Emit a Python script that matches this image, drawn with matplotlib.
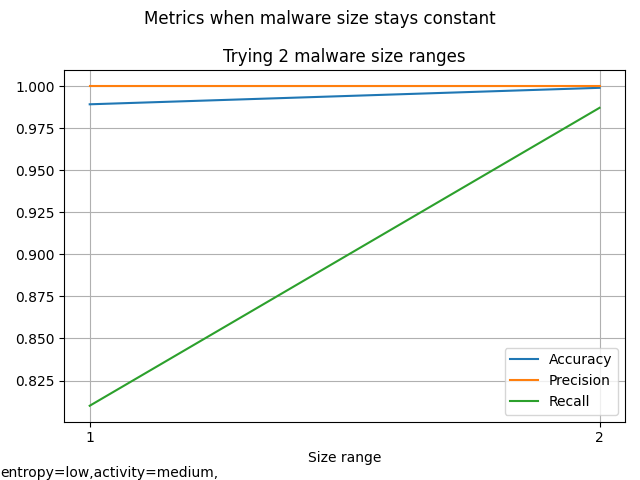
import numpy as np
import matplotlib
matplotlib.use("Agg")
import matplotlib.pyplot as plt

# Values
size_ranges = [1, 2]
accuracy = [0.9893, 0.9991]
precision = [1.0, 1.0]
recall = [0.810, 0.9872]

fig = plt.figure(figsize=(6.4, 4.8), dpi=100)
plt.suptitle("Metrics when malware size stays constant")
plt.title("Trying 2 malware size ranges")
plt.xlabel("Size range")

plt.plot(size_ranges, accuracy, label="Accuracy")
plt.plot(size_ranges, precision, label="Precision")
plt.plot(size_ranges, recall, label="Recall")

plt.xticks(size_ranges)
plt.grid(True)
plt.legend(loc="lower right")

plt.tight_layout()
# footnote with the run settings, kept just inside the bottom edge
fig.text(0, 0.001, "entropy=low,activity=medium,", va="bottom")

plt.savefig("out.png")
